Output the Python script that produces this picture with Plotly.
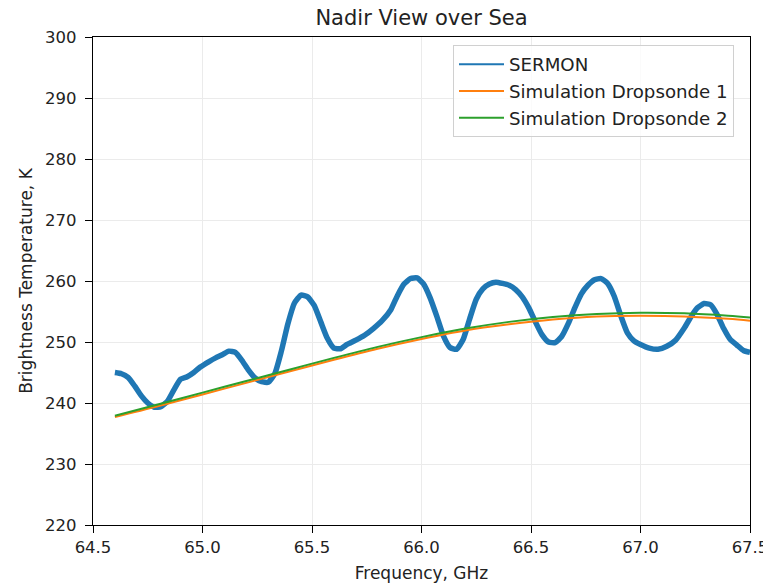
import plotly.graph_objects as go

# SERMON measurement (frequency GHz, brightness temperature K)
sermon_freq = [64.60, 64.63, 64.66, 64.69, 64.72, 64.75, 64.78, 64.81, 64.84, 64.87,
               64.90, 64.93, 64.96, 64.99, 65.03, 65.06, 65.09, 65.12, 65.15, 65.18,
               65.21, 65.24, 65.27, 65.30, 65.33, 65.36, 65.39, 65.42, 65.45, 65.48,
               65.51, 65.54, 65.57, 65.60, 65.63, 65.66, 65.70, 65.74, 65.78, 65.82,
               65.86, 65.89, 65.92, 65.95, 65.98, 66.01, 66.04, 66.07, 66.10, 66.13,
               66.16, 66.19, 66.22, 66.25, 66.28, 66.31, 66.34, 66.37, 66.40, 66.43,
               66.46, 66.49, 66.52, 66.55, 66.58, 66.61, 66.64, 66.67, 66.70, 66.73,
               66.76, 66.79, 66.82, 66.85, 66.88, 66.91, 66.94, 66.97, 67.00, 67.04,
               67.08, 67.12, 67.16, 67.20, 67.23, 67.26, 67.29, 67.32, 67.35, 67.38,
               67.41, 67.44, 67.47, 67.50]
sermon_tb = [245.0, 244.8, 244.2, 242.8, 241.2, 240.0, 239.3, 239.4, 240.3, 242.2,
             243.9, 244.3, 245.0, 245.9, 246.8, 247.4, 247.9, 248.5, 248.3, 247.0,
             245.4, 244.1, 243.5, 243.4, 244.8, 248.5, 253.0, 256.4, 257.7, 257.4,
             256.0, 253.3, 250.6, 249.0, 248.9, 249.6, 250.3, 251.1, 252.2, 253.5,
             255.3, 257.6, 259.5, 260.4, 260.5, 259.5, 257.2, 254.2, 251.0, 249.1,
             248.8, 250.4, 253.8, 257.0, 258.7, 259.5, 259.8, 259.6, 259.3, 258.6,
             257.4, 255.6, 253.3, 251.2, 250.0, 249.9, 250.9, 253.0, 255.6, 257.9,
             259.3, 260.2, 260.4, 259.6, 257.5, 254.3, 251.5, 250.2, 249.6, 249.0,
             248.8, 249.3, 250.3, 252.3, 254.1, 255.6, 256.3, 256.1, 254.5, 252.2,
             250.4, 249.5, 248.6, 248.3]

# Simulations
sim_freq = [64.60, 64.80, 65.00, 65.20, 65.40, 65.60, 65.80, 66.00, 66.20, 66.40,
            66.60, 66.80, 67.00, 67.20, 67.40, 67.50]
sim1_tb = [237.7, 239.5, 241.4, 243.3, 245.2, 247.1, 248.9, 250.5, 251.9, 252.9,
           253.7, 254.2, 254.3, 254.2, 253.8, 253.5]
sim2_tb = [237.9, 239.8, 241.7, 243.6, 245.5, 247.4, 249.2, 250.8, 252.2, 253.3,
           254.1, 254.6, 254.8, 254.7, 254.3, 254.0]

series_names = ["SERMON", "Simulation Dropsonde 1", "Simulation Dropsonde 2"]
series_colors = ["#1f77b4", "#ff7f0e", "#2ca02c"]

x_ticks = [64.5, 65.0, 65.5, 66.0, 66.5, 67.0, 67.5]
y_ticks = [220, 230, 240, 250, 260, 270, 280, 290, 300]

fig = go.Figure()
fig.add_trace(go.Scatter(x=sermon_freq, y=sermon_tb, mode="lines", showlegend=False,
                         line=dict(color=series_colors[0], width=5.5, shape="spline", smoothing=0.5)))
fig.add_trace(go.Scatter(x=sim_freq, y=sim1_tb, mode="lines", showlegend=False,
                         line=dict(color=series_colors[1], width=2, shape="spline")))
fig.add_trace(go.Scatter(x=sim_freq, y=sim2_tb, mode="lines", showlegend=False,
                         line=dict(color=series_colors[2], width=2, shape="spline")))
# legend entries with thin sample lines
for i, (nm, col) in enumerate(zip(series_names, series_colors)):
    fig.add_trace(go.Scatter(x=[None], y=[None], mode="lines", name=nm, legendgroup=f"g{i}",
                             line=dict(color=col, width=2)))

# page has an 8px body margin: figure is placed at (8, 8)
W, H = 771, 584
L, R, T, B = 85, 29, 29, 67
font = "DejaVu Sans"
fs = 16.5
fig.update_layout(
    template="none",
    width=W, height=H,
    margin=dict(l=L, r=R, t=T, b=B, autoexpand=False),
    paper_bgcolor="white", plot_bgcolor="white",
    font=dict(family=font, size=fs, color="#222"),
    title=dict(text="Nadir View over Sea", x=(L + 657 / 2) / W, xanchor="center",
               y=1, yref="container", yanchor="top", pad=dict(t=2, b=0),
               font=dict(size=21, color="#222")),
    legend=dict(x=(445 - L) / 657, y=1 - 8 / 488, xanchor="left", yanchor="top",
                bgcolor="rgba(255,255,255,0.8)", bordercolor="#d0d0d0", borderwidth=1,
                font=dict(size=18.2, color="#222"), itemwidth=45, tracegroupgap=0,
                traceorder="grouped"),
    showlegend=True,
)
fig.update_xaxes(range=[64.5, 67.5], tickvals=x_ticks, ticktext=[f"{v:.1f}" for v in x_ticks],
                 automargin=False,
                 showgrid=True, gridcolor="#ebebeb", gridwidth=1,
                 showline=True, linecolor="black", linewidth=1.2, mirror=True,
                 ticks="outside", ticklen=7, tickcolor="black", tickwidth=1,
                 tickfont=dict(size=fs), zeroline=False,
                 title=dict(text="Frequency, GHz", font=dict(size=17), standoff=11))
fig.update_yaxes(range=[220, 300], tickvals=y_ticks, automargin=False,
                 showgrid=True, gridcolor="#ebebeb", gridwidth=1,
                 showline=True, linecolor="black", linewidth=1.2, mirror=True,
                 ticks="outside", ticklen=7, tickcolor="black", tickwidth=1,
                 ticklabelstandoff=5,
                 tickfont=dict(size=fs), zeroline=False,
                 title=dict(text="Brightness Temperature, K", font=dict(size=17), standoff=8))

fig.write_html("out.html")
